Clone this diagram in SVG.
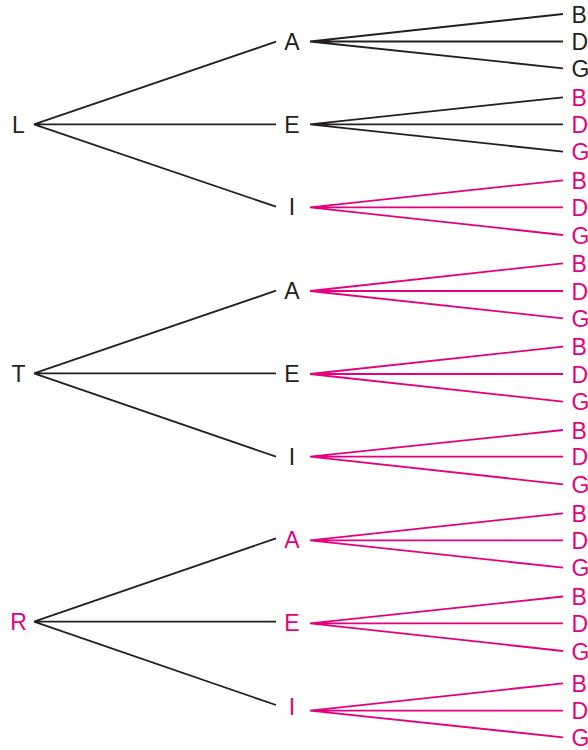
<svg xmlns="http://www.w3.org/2000/svg" width="588" height="750" viewBox="0 0 588 750">
<style>
.k{stroke:#231f20;stroke-width:1.8;fill:none}
.p{stroke:#e5007d;stroke-width:1.8;fill:none}
text{font-family:"Liberation Sans",Arial,sans-serif;font-size:23px}
.tk{fill:#231f20}
.tp{fill:#e5007d}
.m{text-anchor:middle}
</style>
<rect width="588" height="750" fill="#fff"/>
<g id="connectors">
<path class="k" d="M34 124.3L276 41.7M34 124.3H276M34 124.3L276 206.7"/>
<path class="k" d="M310 41.5L563 14M310 41.5H563M310 41.5L563 68.3"/>
<path class="k" d="M310 124.3L563 97.3M310 124.3H563M310 124.3L563 151.7"/>
<path class="p" d="M310 207.3L563 180.3M310 207.3H563M310 207.3L563 235"/>
<path class="k" d="M34 373.3L276 290.7M34 373.3H276M34 373.3L276 456.7"/>
<path class="p" d="M310 291L563 263.3M310 291H563M310 291L563 318.3"/>
<path class="p" d="M310 374L563 346.7M310 374H563M310 374L563 401.7"/>
<path class="p" d="M310 456.7L563 430M310 456.7H563M310 456.7L563 484.3"/>
<path class="k" d="M34 621.7L276 538.3M34 621.7H276M34 621.7L276 705"/>
<path class="p" d="M310 540.3L563 513.3M310 540.3H563M310 540.3L563 567.7"/>
<path class="p" d="M310 623.3L563 596.5M310 623.3H563M310 623.3L563 651"/>
<path class="p" d="M310 710.7L563 683.3M310 710.7H563M310 710.7L563 737.3"/>
</g>
<g id="L"><text class="tk m" x="18.5" y="132.5">L</text></g>
<g id="L-A"><text class="tk m" x="292" y="49.5">A</text></g>
<g id="L-E"><text class="tk m" x="292" y="132.5">E</text></g>
<g id="L-I"><text class="tk m" x="292" y="215.3">I</text></g>
<g id="L-A-leaves"><text class="tk" x="571.5" y="22.5">B</text><text class="tk" x="571.5" y="49.8">D</text><text class="tk" x="571.5" y="76.8">G</text></g>
<g id="L-E-leaves"><text class="tp" x="571.5" y="105.8">B</text><text class="tp" x="571.5" y="132.8">D</text><text class="tp" x="571.5" y="160.2">G</text></g>
<g id="L-I-leaves"><text class="tp" x="571.5" y="188.8">B</text><text class="tp" x="571.5" y="215.8">D</text><text class="tp" x="571.5" y="243.5">G</text></g>
<g id="T"><text class="tk m" x="18.5" y="381.6">T</text></g>
<g id="T-A"><text class="tk m" x="292" y="299.1">A</text></g>
<g id="T-E"><text class="tk m" x="292" y="382">E</text></g>
<g id="T-I"><text class="tk m" x="292" y="465">I</text></g>
<g id="T-A-leaves"><text class="tp" x="571.5" y="271.8">B</text><text class="tp" x="571.5" y="299.5">D</text><text class="tp" x="571.5" y="326.8">G</text></g>
<g id="T-E-leaves"><text class="tp" x="571.5" y="355.2">B</text><text class="tp" x="571.5" y="382.5">D</text><text class="tp" x="571.5" y="410.2">G</text></g>
<g id="T-I-leaves"><text class="tp" x="571.5" y="438.5">B</text><text class="tp" x="571.5" y="465.2">D</text><text class="tp" x="571.5" y="492.8">G</text></g>
<g id="R"><text class="tp m" x="18.5" y="630">R</text></g>
<g id="R-A"><text class="tp m" x="292" y="547.6">A</text></g>
<g id="R-E"><text class="tp m" x="292" y="630.8">E</text></g>
<g id="R-I"><text class="tp m" x="292" y="715">I</text></g>
<g id="R-A-leaves"><text class="tp" x="571.5" y="521.8">B</text><text class="tp" x="571.5" y="548.8">D</text><text class="tp" x="571.5" y="576.2">G</text></g>
<g id="R-E-leaves"><text class="tp" x="571.5" y="605">B</text><text class="tp" x="571.5" y="631.8">D</text><text class="tp" x="571.5" y="659.5">G</text></g>
<g id="R-I-leaves"><text class="tp" x="571.5" y="691.8">B</text><text class="tp" x="571.5" y="719.2">D</text><text class="tp" x="571.5" y="745.8">G</text></g>
</svg>
